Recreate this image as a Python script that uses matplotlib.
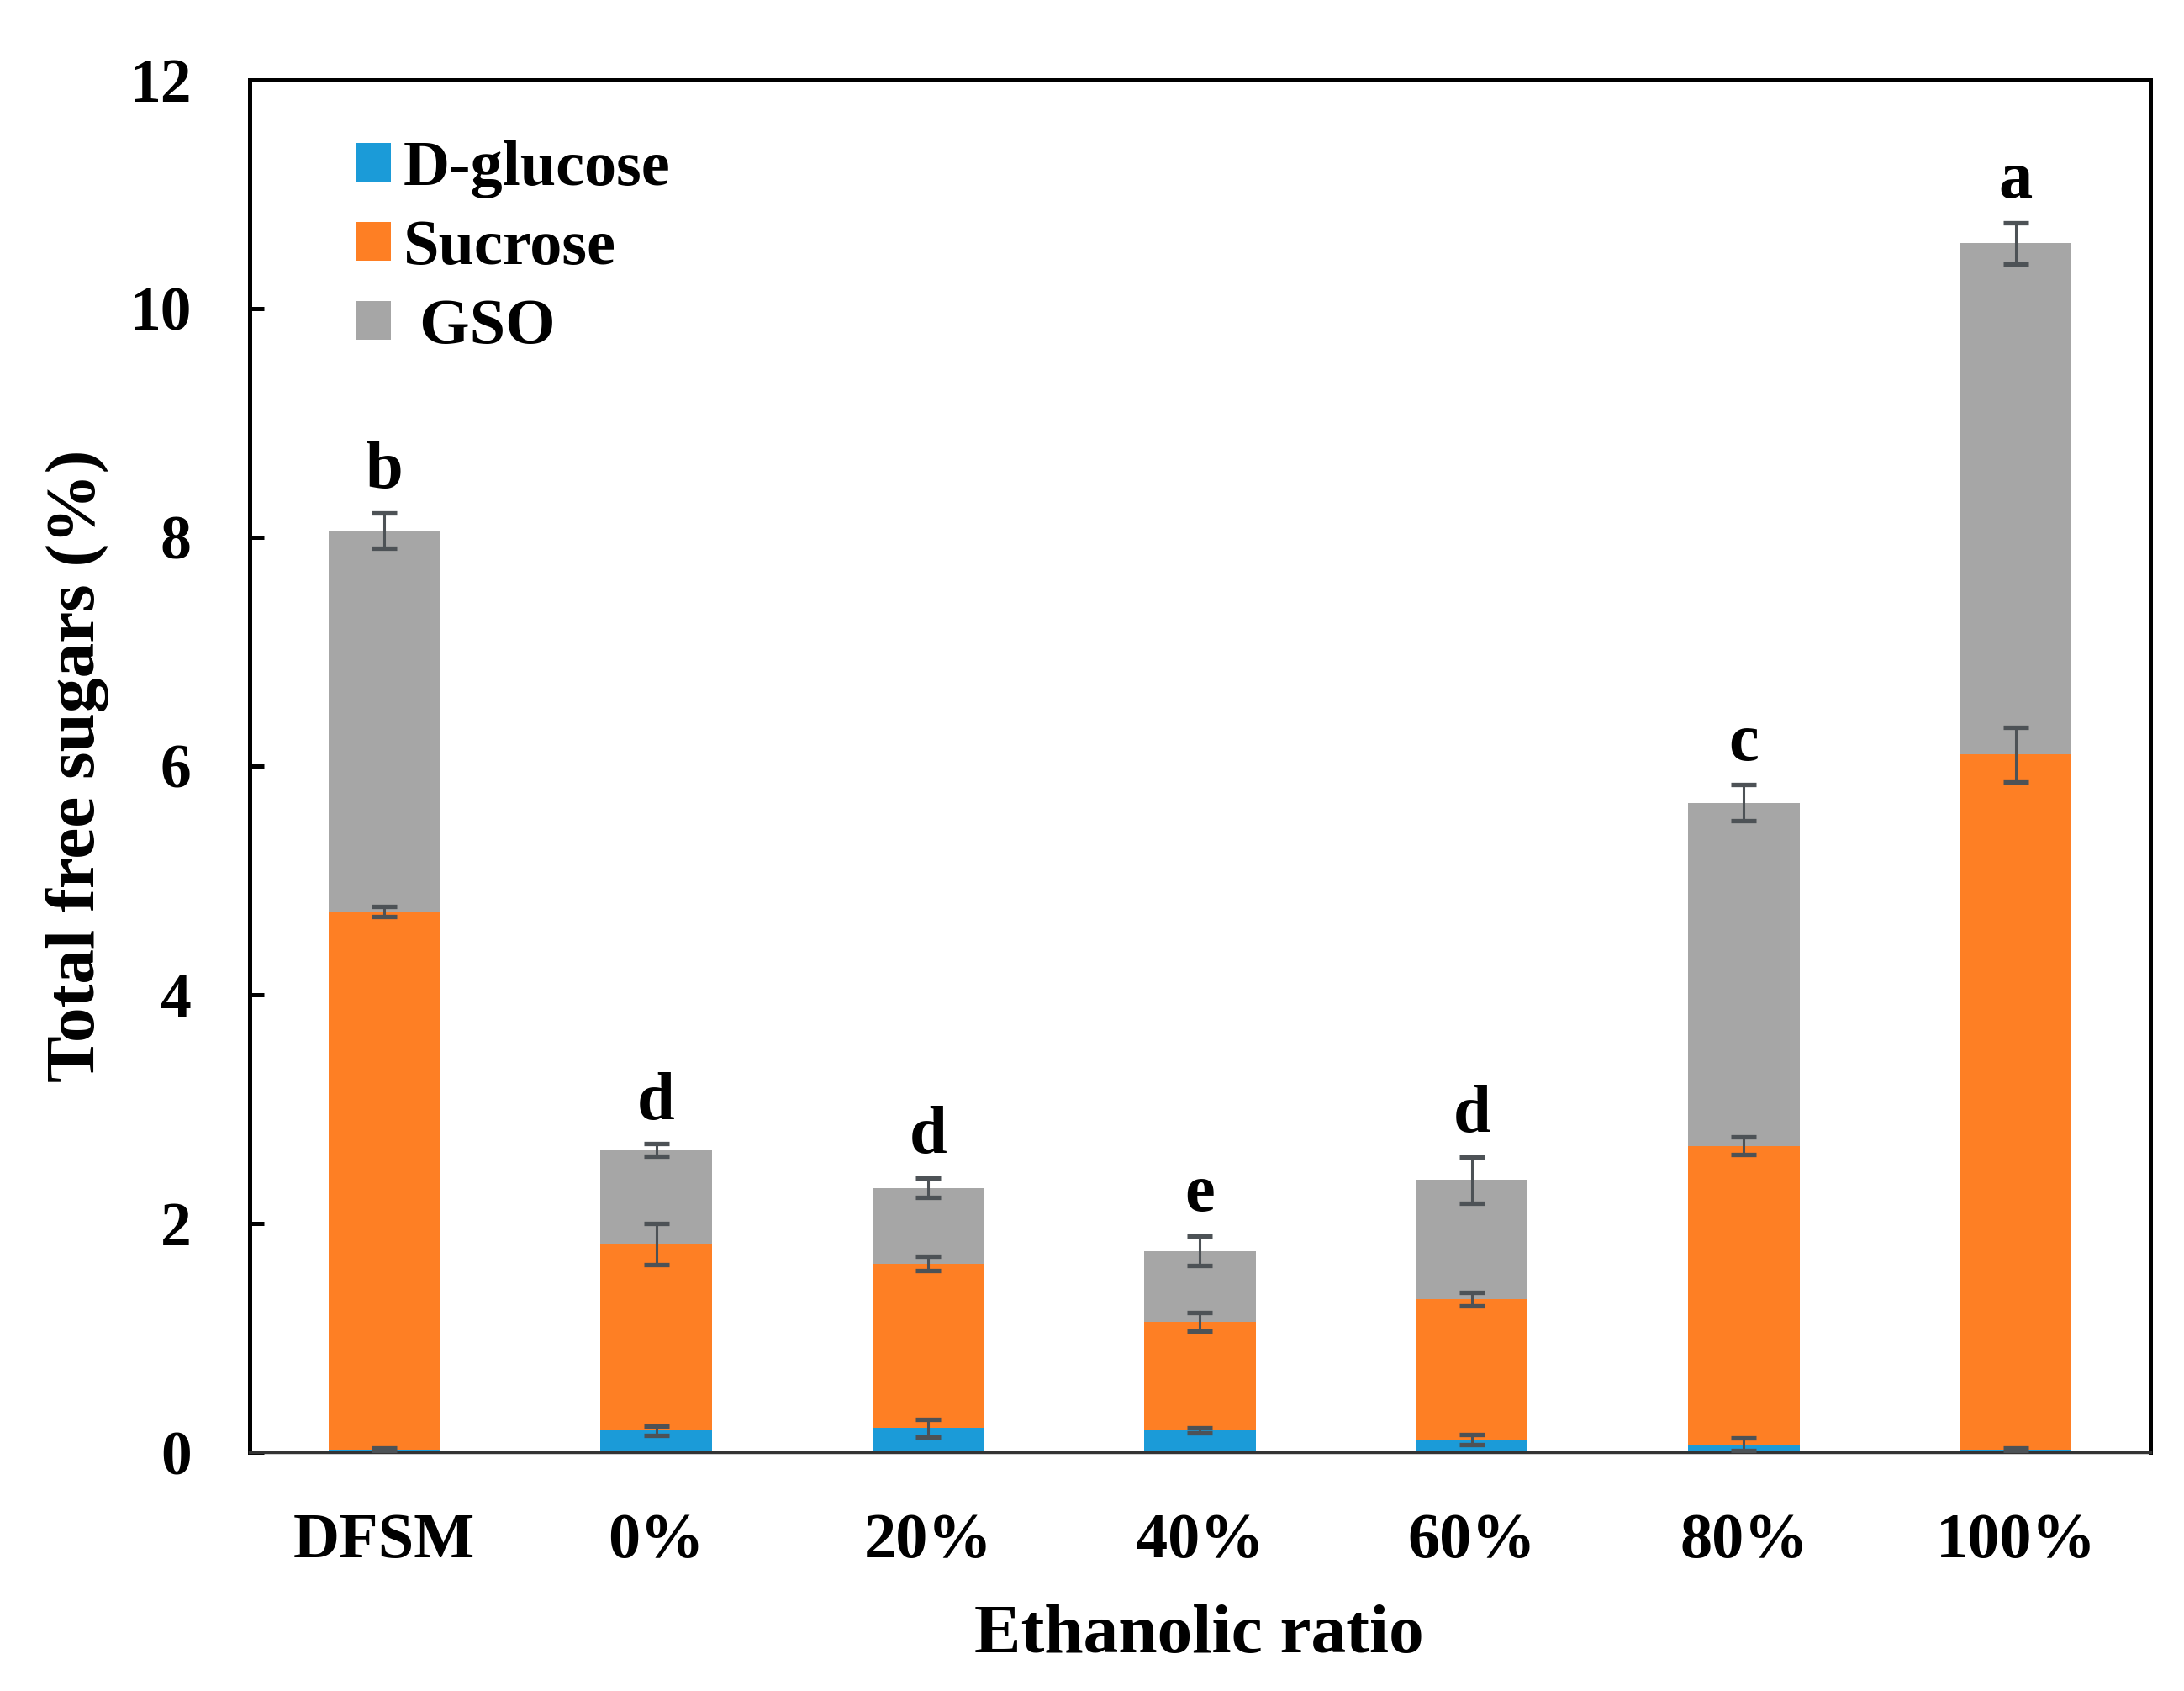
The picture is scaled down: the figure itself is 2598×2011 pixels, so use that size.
import numpy as np
import matplotlib.pyplot as plt

plt.rcParams['font.family'] = ['Liberation Serif', 'DejaVu Serif']
plt.rcParams['font.weight'] = 'bold'

# data (values in %)
groups = ['DFSM', '0%', '20%', '40%', '60%', '80%', '100%']
glucose = [0.02, 0.19, 0.21, 0.19, 0.11, 0.07, 0.02]
glucose_err = [0.02, 0.04, 0.075, 0.02, 0.045, 0.055, 0.02]
sucrose = [4.71, 1.63, 1.44, 0.95, 1.23, 2.61, 6.08]
sucrose_err = [0.045, 0.18, 0.065, 0.08, 0.06, 0.08, 0.24]
gso = [3.33, 0.82, 0.66, 0.62, 1.04, 3.00, 4.47]
gso_err = [0.155, 0.055, 0.085, 0.13, 0.2, 0.155, 0.18]
letters = ['b', 'd', 'd', 'e', 'd', 'c', 'a']

series = [(glucose, glucose_err, '#1B9BD8', 'D-glucose'),
          (sucrose, sucrose_err, '#FE7F24', 'Sucrose'),
          (gso, gso_err, '#A6A6A6', ' GSO')]

fig = plt.figure(figsize=(25.98, 20.11), dpi=100)
ax = fig.add_axes([0.1143, 0.1412, 0.8703, 0.8116])

x = np.arange(len(groups))
bottom = np.zeros(len(groups))
handles = []
for vals, errs, col, lab in series:
    vals = np.array(vals)
    b = ax.bar(x, vals, 0.41, bottom=bottom, color=col, label=lab, zorder=2)
    handles.append(b)
    ax.errorbar(x, bottom + vals, yerr=errs, fmt='none', ecolor='#4d5256',
                elinewidth=2.2, capsize=10.5, capthick=3.8, zorder=3)
    bottom = bottom + vals

# significance letters
for i in range(len(groups)):
    ax.text(x[i], bottom[i] + gso_err[i] + 0.22, letters[i], ha='center',
            va='baseline', fontsize=58, fontweight='bold')

ax.set_xlim(-0.495, 6.495)
ax.set_ylim(0, 12)
ax.set_yticks(np.arange(0, 13, 2))
ax.set_xticks(x)
ax.set_xticklabels(groups)

ax.tick_params(axis='y', direction='in', length=12, width=3.6, pad=50, labelsize=53)
ax.tick_params(axis='x', length=0, pad=52, labelsize=55)
for s in ['left', 'top', 'right']:
    ax.spines[s].set_linewidth(3.6)
    ax.spines[s].set_color('black')
ax.spines['bottom'].set_linewidth(2.5)
ax.spines['bottom'].set_color('#333333')

ax.legend(handles=handles, loc='upper left', bbox_to_anchor=(0.0557, 0.956),
          frameon=False, fontsize=55, handlelength=0.55, handleheight=0.55,
          handletextpad=0.2, labelspacing=0.33, borderpad=0, borderaxespad=0)

fig.supxlabel('Ethanolic ratio', x=0.549, y=0.0328, va='center',
              fontsize=60, fontweight='bold')
fig.supylabel('Total free sugars (%)', x=0.0354, y=0.547, ha='center',
              va='center', fontsize=60, fontweight='bold')

fig.savefig('out.png', dpi=100)
